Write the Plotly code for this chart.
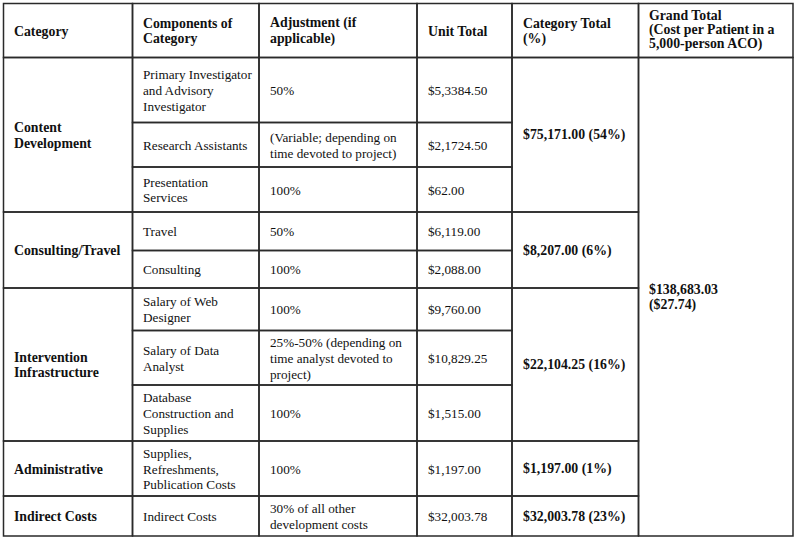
import plotly.graph_objects as go

# ---------------- data ----------------
headers = ["Category", "Components of<br>Category", "Adjustment (if<br>applicable)",
           "Unit Total", "Category Total<br>(%)",
           "Grand Total<br>(Cost per Patient in a<br>5,000-person ACO)"]

categories = ["Content<br>Development", "Consulting/Travel", "Intervention<br>Infrastructure",
              "Administrative", "Indirect Costs"]
group_sizes = [3, 2, 3, 1, 1]

components = ["Primary Investigator<br>and Advisory<br>Investigator", "Research Assistants",
              "Presentation<br>Services", "Travel", "Consulting", "Salary of Web<br>Designer",
              "Salary of Data<br>Analyst", "Database<br>Construction and<br>Supplies",
              "Supplies,<br>Refreshments,<br>Publication Costs", "Indirect Costs"]

adjustments = ["50%", "(Variable; depending on<br>time devoted to project)", "100%", "50%", "100%",
               "100%", "25%-50% (depending on<br>time analyst devoted to<br>project)", "100%",
               "100%", "30% of all other<br>development costs"]

unit_totals = ["$5,3384.50", "$2,1724.50", "$62.00", "$6,119.00", "$2,088.00", "$9,760.00",
               "$10,829.25", "$1,515.00", "$1,197.00", "$32,003.78"]

category_totals = ["$75,171.00 (54%)", "$8,207.00 (6%)", "$22,104.25 (16%)",
                   "$1,197.00 (1%)", "$32,003.78 (23%)"]

grand_total = "$138,683.03<br>($27.74)"

# ---------------- layout / style ----------------
W, H = 796, 540
x_start, y_start = 3.5, 3.5
col_widths = [129, 126.5, 158, 95, 126.5, 154.5]
header_height = 54
row_heights = [65, 44.5, 45, 38.5, 37.5, 42.5, 54.5, 56, 55, 40]
pad_x = 8.5
line_h = 15.8
font_family = "Liberation Serif, Times New Roman, serif"
reg_size = 13.2
bold_size = 13.8
text_color = "#111111"
border_color = "#2a2a2a"

col_edges = [x_start]
for w in col_widths:
    col_edges.append(col_edges[-1] + w)
row_edges = [y_start, y_start + header_height]
for h in row_heights:
    row_edges.append(row_edges[-1] + h)

# cells: (col, first_row_edge_index, span, text, bold, line spacing, font size, y shift)
cells = []
for c, t in enumerate(headers):
    if c == 5:
        cells.append((c, 0, 1, t, True, 14.4, bold_size, -1.0))
    else:
        cells.append((c, 0, 1, t, True, line_h, bold_size, 0.5))
r = 1
for g, size in enumerate(group_sizes):
    cells.append((0, r, size, categories[g], True, line_h, bold_size, 0.5))
    cells.append((4, r, size, category_totals[g], True, line_h, bold_size, 0.5))
    r += size
for i in range(len(components)):
    cells.append((1, 1 + i, 1, components[i], False, line_h, reg_size, 0.5))
    cells.append((2, 1 + i, 1, adjustments[i], False, line_h, reg_size, 0.5))
    cells.append((3, 1 + i, 1, unit_totals[i], False, line_h, reg_size, 0.5))
cells.append((5, 1, len(components), grand_total, True, line_h, bold_size, 0.5))

fig = go.Figure()
shapes = []
annotations = []
for (c, r0, span, text, bold, lh, fs, dy) in cells:
    x0, x1 = col_edges[c], col_edges[c + 1]
    y0, y1 = row_edges[r0], row_edges[r0 + span]
    shapes.append(dict(type="rect", xref="x", yref="y", x0=x0, x1=x1, y0=y0, y1=y1,
                       line=dict(color=border_color, width=1.5), fillcolor="rgba(0,0,0,0)"))
    lines = text.split("<br>")
    n = len(lines)
    yc = (y0 + y1) / 2 + dy
    for k, ln in enumerate(lines):
        annotations.append(dict(
            x=x0 + pad_x, y=yc + (k - (n - 1) / 2) * lh, xref="x", yref="y",
            text=f"<b>{ln}</b>" if bold else ln, showarrow=False,
            xanchor="left", yanchor="middle",
            font=dict(family=font_family, size=fs, color=text_color)))

fig.update_layout(
    width=W, height=H, margin=dict(l=0, r=0, t=0, b=0),
    paper_bgcolor="white", plot_bgcolor="white",
    xaxis=dict(range=[0, W], visible=False, fixedrange=True),
    yaxis=dict(range=[H, 0], visible=False, fixedrange=True),
    shapes=shapes, annotations=annotations, showlegend=False)

fig.write_html("out.html", config={"displayModeBar": False},
               post_script="document.body.style.margin='0';document.body.style.overflow='hidden';")
